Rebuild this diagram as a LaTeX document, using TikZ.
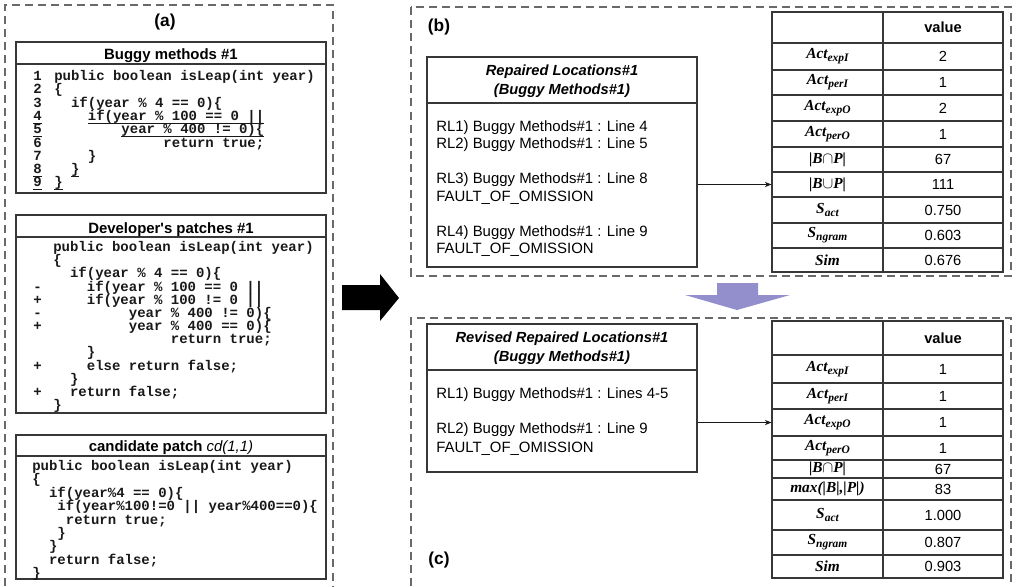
\documentclass[tikz,border=0pt]{standalone}
\usepackage{xcolor}
\usepackage{fontspec}
\setmainfont{Liberation Sans}
\setmonofont{Liberation Mono}
\newfontfamily\timesfont{Liberation Serif}
\usepackage{tikz}
\usetikzlibrary{arrows.meta}
\definecolor{ink}{RGB}{25,25,25}
\definecolor{frame}{RGB}{55,55,55}
\definecolor{dashgray}{RGB}{105,105,105}
\definecolor{lilac}{RGB}{146,143,204}
\newcommand{\codefont}{\fontsize{10.5pt}{10pt}\selectfont\ttfamily\bfseries}
\newcommand{\lowidx}[1]{\raisebox{-2.4pt}{\fontsize{8.6pt}{9pt}\selectfont #1}}
% underline at a fixed depth below the baseline
\newcommand{\undl}[1]{\setbox0\hbox{#1}\rlap{\rule[-2.3pt]{\wd0}{0.6pt}}\box0}
\tikzset{
  panel/.style     ={draw=dashgray, line width=0.8pt, dash pattern=on 6pt off 3.8pt},
  codebox/.style 2 args={draw=frame, line width=0.9pt, minimum width=#1*0.75pt,
                    minimum height=#2*0.75pt, inner sep=0pt},
  rule/.style      ={draw=frame, line width=0.9pt},
  grid/.style      ={draw=frame, line width=0.8pt},
  tag/.style       ={font=\fontsize{13pt}{15pt}\selectfont\bfseries, inner sep=0pt},
  boxtitle/.style  ={anchor=base, inner sep=0pt, font=\fontsize{11.2pt}{13pt}\selectfont\bfseries},
  code/.style      ={anchor=base west, inner sep=0pt, font=\codefont, text=ink},
  loctitle/.style  ={align=center, inner sep=0pt, font=\fontsize{11pt}{14.25pt}\selectfont\bfseries\itshape},
  locline/.style   ={anchor=base west, inner sep=0pt, font=\fontsize{11.2pt}{13pt}\selectfont},
  keycell/.style   ={inner sep=0pt, font=\fontsize{11.5pt}{12pt}\selectfont\timesfont\bfseries\itshape},
  valcell/.style   ={inner sep=0pt, font=\fontsize{11pt}{12pt}\selectfont},
  arr/.style       ={-{Stealth[length=5pt, width=4pt]}, line width=0.7pt, color=ink},
}
\begin{document}
\begin{tikzpicture}[x=0.75pt, y=-0.75pt]
\useasboundingbox (0,0) rectangle (1018,586);

% dashed panels
\draw[panel] (5,586) -- (5,5) -- (333,5) -- (333,586);
\draw[panel] (411,7) rectangle (1011,276);
\draw[panel] (411,586) -- (411,318) -- (1011,318) -- (1011,586);
\node[tag] (taga) at (165,22) {(a)};
\node[tag] (tagb) at (439,27) {(b)};
\node[tag] (tagc) at (439,560) {(c)};

% buggy method
\node[codebox={310}{151}] (bug) at (171,117.5) {};
\draw[rule] (bug.west |- 0,64) -- (bug.east |- 0,64);
\node[boxtitle] (bugtitle) at (171,59.5) {Buggy methods \#1};
\foreach \n/\c/\t [count=\i] in {
  1/0/{public boolean isLeap(int year)},
  2/0/\{,
  3/2/{if(year \% 4 == 0)\{},
  \undl{4}/4/{\undl{if(year \% 100 == 0 ||}},
  \undl{5}/8/{\undl{year \% 400 != 0)\{}},
  6/13/{return true;},
  7/4/\},
  \undl{8}/2/{\undl{\}}},
  \undl{9}/0/{\undl{\}}}} {
  \node[code] (bugno\i) at (33,{80.5+(\i-1)*13.3}) {\n};
  \node[code] (bugln\i) at ({54+\c*8.4},{80.5+(\i-1)*13.3}) {\t};
}

% developer patch
\node[codebox={310}{198}] (dev) at (171,314) {};
\draw[rule] (dev.west |- 0,237) -- (dev.east |- 0,237);
\node[boxtitle] (devtitle) at (171,233.5) {Developer\textquotesingle s patches \#1};
\foreach \c/\t [count=\i] in {
  0/{public boolean isLeap(int year)},
  0/\{,
  2/{if(year \% 4 == 0)\{},
  4/{if(year \% 100 == 0 ||},
  4/{if(year \% 100 != 0 ||},
  9/{year \% 400 != 0)\{},
  9/{year \% 400 == 0)\{},
  14/{return true;},
  4/\},
  4/{else return false;},
  2/\},
  2/{return false;},
  0/\}} {
  \node[code] (devln\i) at ({53+\c*8.4},{251.5+(\i-1)*13.17}) {\t};
}
\foreach \m/\i in {-/4, +/5, -/6, +/7, +/10, +/12}
  \node[code] (devmk\i) at (33,{251.5+(\i-1)*13.17}) {\m};

% candidate patch
\node[codebox={310}{144}] (cand) at (171,507) {};
\draw[rule] (cand.west |- 0,456) -- (cand.east |- 0,456);
\node[boxtitle] (candtitle) at (171,451.5) {candidate patch \textit{\mdseries cd(1,1)}};
\foreach \c/\t [count=\i] in {
  0/{public boolean isLeap(int year)},
  0/\{,
  2/{if(year\%4 == 0)\{},
  3/{if(year\%100!=0 || year\%400==0)\{},
  4/{return true;},
  3/\},
  2/\},
  2/{return false;},
  0/\}} {
  \node[code] (candln\i) at ({32+\c*8.4},{470.5+(\i-1)*13.4}) {\t};
}

% arrows between panels
\fill[black] (342,285) -- (380,285) -- (380,274) -- (399,298) -- (380,321)
  -- (380,310) -- (342,310) -- cycle;
\fill[lilac] (717,283) -- (758,283) -- (758,295) -- (790,295) -- (737,310)
  -- (685,295) -- (717,295) -- cycle;

% repaired locations
\node[codebox={270}{210}] (rep) at (562,162) {};
\draw[rule] (rep.west |- 0,103) -- (rep.east |- 0,103);
\node[loctitle] (reptitle) at (562,81) {Repaired Locations\#1\\(Buggy Methods\#1)};
\foreach \t/\y [count=\i] in {
  {RL1) Buggy Methods\#1 : Line 4}/131,
  {RL2) Buggy Methods\#1 : Line 5}/148.5,
  {RL3) Buggy Methods\#1 : Line 8}/183.5,
  {FAULT\_OF\_OMISSION}/201,
  {RL4) Buggy Methods\#1 : Line 9}/236,
  {FAULT\_OF\_OMISSION}/253.5} {
  \node[locline] (repl\i) at (436,\y) {\t};
}

% revised locations
\node[codebox={270}{148}] (rev) at (562,398) {};
\draw[rule] (rev.west |- 0,370) -- (rev.east |- 0,370);
\node[loctitle] (revtitle) at (562,348) {Revised Repaired Locations\#1\\(Buggy Methods\#1)};
\foreach \t/\y [count=\i] in {
  {RL1) Buggy Methods\#1 : Lines 4-5}/398.5,
  {RL2) Buggy Methods\#1 : Line 9}/433.5,
  {FAULT\_OF\_OMISSION}/452} {
  \node[locline] (revl\i) at (436,\y) {\t};
}

% similarity table (b)
\node[codebox={231}{260}, grid] (tabB) at (887.5,142) {};
\draw[grid] (tabB.north -| 883,0) -- (tabB.south -| 883,0);
\foreach \y in {43,70,95,121,147,172,197,223,248}
  \draw[grid] (tabB.west |- 0,\y) -- (tabB.east |- 0,\y);
\node[valcell, font=\fontsize{11pt}{12pt}\selectfont\bfseries] (bhead) at (943,27.5) {value};
\foreach \k/\v/\ya/\yb [count=\i] in {
  {Act\lowidx{expI}}/2/43/70,
  {Act\lowidx{perI}}/1/70/95,
  {Act\lowidx{expO}}/2/95/121,
  {Act\lowidx{perO}}/1/121/147,
  {|B$\cap$P|}/67/147/172,
  {|B$\cup$P|}/111/172/197,
  {S\lowidx{act}}/0.750/197/223,
  {S\lowidx{ngram}}/0.603/223/248,
  {Sim}/0.676/248/272} {
  \node[keycell] (bk\i) at (827.5,{(\ya+\yb)/2}) {\k};
  \node[valcell] (bv\i) at (943,{(\ya+\yb)/2}) {\v};
}
\draw[arr] (rep.east |- bk6) -- (bk6 -| tabB.west);

% similarity table (c)
\node[codebox={231}{257}, grid] (tabC) at (887.5,449.5) {};
\draw[grid] (tabC.north -| 883,0) -- (tabC.south -| 883,0);
\foreach \y in {355,383,409,436,460,478,500,530,555}
  \draw[grid] (tabC.west |- 0,\y) -- (tabC.east |- 0,\y);
\node[valcell, font=\fontsize{11pt}{12pt}\selectfont\bfseries] (chead) at (943,338) {value};
\foreach \k/\v/\ya/\yb [count=\i] in {
  {Act\lowidx{expI}}/1/355/383,
  {Act\lowidx{perI}}/1/383/409,
  {Act\lowidx{expO}}/1/409/436,
  {Act\lowidx{perO}}/1/436/460,
  {|B$\cap$P|}/67/460/478,
  {max(|B|,|P|)}/83/478/500,
  {S\lowidx{act}}/1.000/500/530,
  {S\lowidx{ngram}}/0.807/530/555,
  {Sim}/0.903/555/578} {
  \node[keycell] (ck\i) at (827.5,{(\ya+\yb)/2}) {\k};
  \node[valcell] (cv\i) at (943,{(\ya+\yb)/2}) {\v};
}
\draw[arr] (rev.east |- ck3) -- (ck3 -| tabC.west);
\end{tikzpicture}
\end{document}
